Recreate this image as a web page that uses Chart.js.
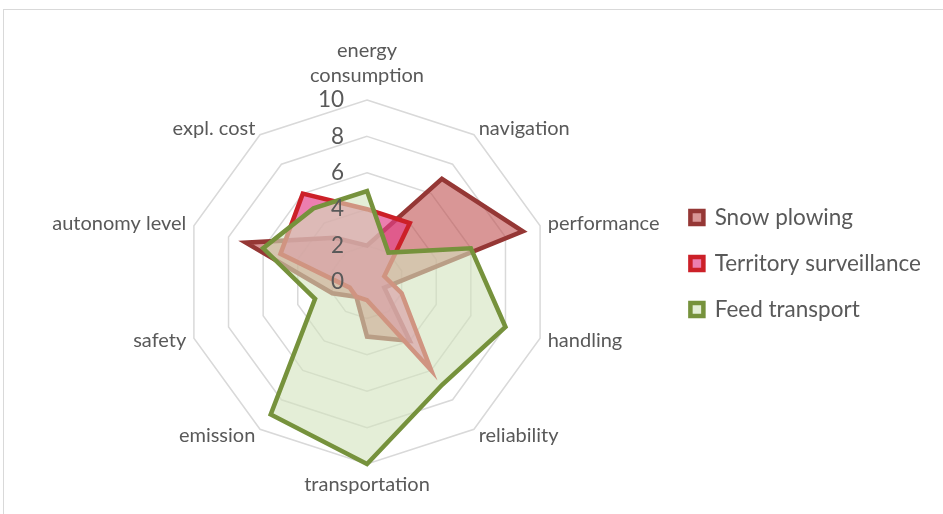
<!DOCTYPE html>
<html>
<head>
<meta charset="utf-8">
<script src="https://cdn.jsdelivr.net/npm/chart.js@4.4.1/dist/chart.umd.min.js"></script>
<style>
  html, body { margin: 0; padding: 0; background: #fff; }
  body { width: 943px; height: 514px; overflow: hidden; position: relative; }
  .frame { position: absolute; left: 3px; top: 9px; width: 1000px; height: 600px; border: 1px solid #d9d9d9; }
  .chart-box { position: absolute; left: 0; top: 0; width: 943px; height: 514px; }
</style>
</head>
<body>
<div class="frame"></div>
<div class="chart-box"><canvas id="radar" width="943" height="514"></canvas></div>
<script>
var categories = [['energy', 'consumption'], 'navigation', 'performance', 'handling', 'reliability',
                  'transportation', 'emission', 'safety', 'autonomy level', 'expl. cost'];
var snowPlowing = [2, 7, 9, 1, 4, 3, 1, 2, 7, 3];
var territorySurveillance = [4, 4, 1, 2, 6, 1, 1, 1, 5, 6];
var feedTransport = [5, 2, 6, 8, 7, 10, 9, 3, 6, 5];
var tickValues = [0, 2, 4, 6, 8, 10];

var textColor = '#595959';
var fontFamily = 'Lato, "Liberation Sans", sans-serif';

// value ticks sit left of the vertical axis, category names around the outer ring
var radarText = {
    id: 'radarText',
    afterDatasetsDraw: function (chart) {
        var scale = chart.scales.r;
        var ctx = chart.ctx;
        ctx.save();
        ctx.fillStyle = textColor;

        ctx.font = '22.5px ' + fontFamily;
        ctx.textAlign = 'right';
        ctx.textBaseline = 'middle';
        scale.ticks.forEach(function (t) {
            ctx.fillText(String(t.value), scale.xCenter - 23,
                scale.yCenter - scale.getDistanceFromCenterForValue(t.value));
        });

        ctx.font = '20px ' + fontFamily;
        var lineH = 25;
        categories.forEach(function (name, i) {
            var lines = [].concat(name);
            var p = scale.getPointPosition(i, scale.drawingArea + 8);
            var dx = p.x - scale.xCenter;
            if (Math.abs(dx) < 1) {
                ctx.textAlign = 'center';
                var up = p.y < scale.yCenter;
                lines.forEach(function (line, k) {
                    var y = up ? p.y - 4 - (lines.length - k - 0.5) * lineH
                               : p.y + (k + 0.5) * lineH;
                    ctx.fillText(line, p.x, y);
                });
            } else {
                ctx.textAlign = dx > 0 ? 'left' : 'right';
                ctx.fillText(lines[0], p.x, p.y);
            }
        });
        ctx.restore();
    }
};

new Chart(document.getElementById('radar'), {
    type: 'radar',
    data: {
        labels: categories,
        datasets: [{
            label: 'Snow plowing',
            data: snowPlowing,
            borderColor: '#953735',
            backgroundColor: 'rgba(192, 80, 80, 0.6)',
            order: 3
        }, {
            label: 'Territory surveillance',
            data: territorySurveillance,
            borderColor: '#cc2028',
            backgroundColor: 'rgba(227, 62, 136, 0.67)',
            order: 2
        }, {
            label: 'Feed transport',
            data: feedTransport,
            borderColor: '#76923c',
            backgroundColor: 'rgba(210, 227, 189, 0.6)',
            order: 1
        }]
    },
    options: {
        responsive: false,
        animation: false,
        layout: {
            padding: { top: 63, bottom: 50, left: 69, right: 12 }
        },
        elements: {
            line: { borderWidth: 4.5, tension: 0, fill: true, borderJoinStyle: 'miter' },
            point: { radius: 0, hoverRadius: 0 }
        },
        scales: {
            r: {
                min: 0,
                max: 10,
                afterBuildTicks: function (scale) {
                    scale.ticks = tickValues.map(function (v) { return { value: v }; });
                },
                angleLines: { display: false },
                grid: { color: '#d9d9d9', lineWidth: 1.5 },
                ticks: { display: false },
                pointLabels: { display: false }
            }
        },
        plugins: {
            // empty spacer above the plot so the legend sits a little higher than the ring centre
            title: { display: true, text: '', padding: 0, font: { size: 37, lineHeight: 1 } },
            legend: {
                position: 'right',
                labels: {
                    boxWidth: 13,
                    boxHeight: 13,
                    padding: 23.5,
                    color: textColor,
                    font: { family: fontFamily, size: 22.5 },
                    sort: function (a, b) { return a.datasetIndex - b.datasetIndex; }
                }
            },
            tooltip: { enabled: false }
        }
    },
    plugins: [radarText]
});
</script>
</body>
</html>
